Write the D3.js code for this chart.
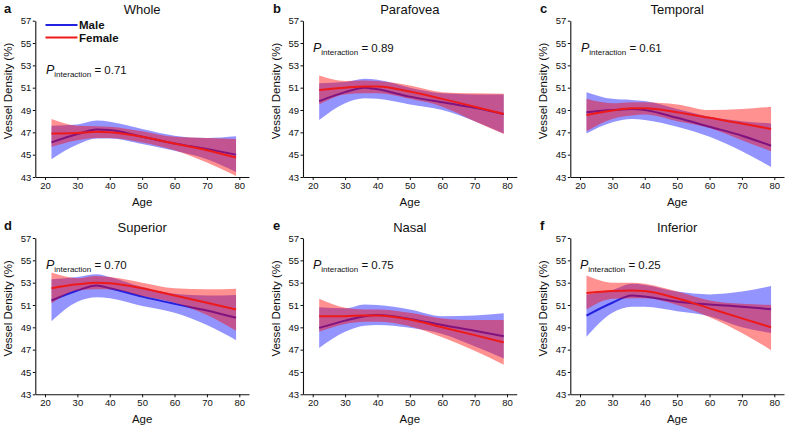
<!DOCTYPE html>
<html><head><meta charset="utf-8">
<script src="https://cdn.jsdelivr.net/npm/d3@7"></script>
<style>
body{margin:0;background:#fff;}
svg{display:block;font-family:"Liberation Sans",Arial,sans-serif;}
</style></head>
<body>
<script>
// ---- data ----
const ages = [22, 30, 36, 40, 50, 60, 70, 79];
const xTicks = [20, 30, 40, 50, 60, 70, 80];
const yTicks = [43, 45, 47, 49, 51, 53, 55, 57];
const regions = ["Whole", "Parafovea", "Temporal", "Superior", "Nasal", "Inferior"];
const panelLetters = ["a", "b", "c", "d", "e", "f"];
const pInteraction = ["0.71", "0.89", "0.61", "0.70", "0.75", "0.25"];
const seriesNames = ["Male", "Female"];

// Whole
const wholeMale     = [46.1, 46.85, 47.25, 47.2, 46.6, 46.0, 45.5, 45.0];
const wholeMaleLo   = [44.6, 45.9, 46.45, 46.45, 45.95, 45.35, 44.6, 43.45];
const wholeMaleHi   = [47.6, 47.7, 48.05, 47.95, 47.3, 46.7, 46.5, 46.65];
const wholeFemale   = [46.9, 46.95, 47.05, 47.0, 46.6, 46.0, 45.4, 44.75];
const wholeFemaleLo = [45.7, 46.3, 46.5, 46.5, 46.1, 45.4, 44.3, 43.1];
const wholeFemaleHi = [48.2, 47.6, 47.55, 47.5, 47.1, 46.6, 46.5, 46.4];
// Parafovea
const paraMale      = [49.8, 50.6, 51.0, 50.85, 50.2, 49.7, 49.2, 48.65];
const paraMaleLo    = [48.1, 49.6, 50.05, 50.0, 49.5, 49.0, 48.0, 46.9];
const paraMaleHi    = [51.4, 51.5, 51.8, 51.7, 51.0, 50.5, 50.4, 50.4];
const paraFemale    = [50.8, 51.0, 51.1, 51.1, 50.65, 50.0, 49.3, 48.65];
const paraFemaleLo  = [49.5, 50.4, 50.5, 50.5, 50.0, 49.3, 48.0, 46.85];
const paraFemaleHi  = [52.1, 51.6, 51.65, 51.6, 51.2, 50.6, 50.5, 50.45];
// Temporal
const tempMale      = [48.8, 49.0, 49.1, 49.0, 48.3, 47.5, 46.7, 45.8];
const tempMaleLo    = [46.9, 47.9, 48.2, 48.1, 47.5, 46.6, 45.3, 43.9];
const tempMaleHi    = [50.6, 50.0, 49.9, 49.8, 49.1, 48.4, 48.0, 47.8];
const tempFemale    = [48.55, 48.95, 49.15, 49.15, 48.8, 48.3, 47.8, 47.3];
const tempFemaleLo  = [47.1, 48.2, 48.5, 48.6, 48.0, 47.4, 46.3, 45.3];
const tempFemaleHi  = [50.0, 49.6, 49.7, 49.7, 49.5, 49.0, 49.1, 49.3];
// Superior
const supMale       = [51.4, 52.3, 52.75, 52.5, 51.75, 51.1, 50.5, 49.85];
const supMaleLo     = [49.55, 51.3, 51.7, 51.6, 50.9, 50.3, 49.2, 47.85];
const supMaleHi     = [53.3, 53.5, 53.75, 53.5, 52.6, 52.0, 51.85, 51.9];
const supFemale     = [52.5, 52.85, 53.0, 52.95, 52.5, 51.85, 51.2, 50.6];
const supFemaleLo   = [51.15, 52.3, 52.4, 52.4, 51.8, 51.2, 50.1, 48.7];
const supFemaleHi   = [53.9, 53.4, 53.6, 53.5, 53.0, 52.5, 52.4, 52.45];
// Nasal
const nasMale       = [48.95, 49.6, 50.0, 50.1, 49.75, 49.2, 48.7, 48.2];
const nasMaleLo     = [47.15, 48.6, 49.15, 49.2, 48.95, 48.4, 47.3, 46.2];
const nasMaleHi     = [50.8, 50.7, 51.05, 51.0, 50.6, 50.0, 50.05, 50.25];
const nasFemale     = [50.0, 50.0, 50.05, 50.05, 49.7, 49.0, 48.3, 47.65];
const nasFemaleLo   = [48.6, 49.3, 49.5, 49.5, 49.1, 48.1, 46.9, 45.65];
const nasFemaleHi   = [51.55, 50.75, 50.6, 50.6, 50.3, 49.8, 49.65, 49.65];
// Inferior
const infMale       = [50.05, 51.2, 51.85, 51.75, 51.3, 51.05, 50.85, 50.62];
const infMaleLo     = [48.15, 50.3, 50.85, 50.85, 50.45, 50.0, 49.0, 48.5];
const infMaleHi     = [51.95, 52.35, 52.9, 52.8, 52.2, 51.95, 52.2, 52.7];
const infFemale     = [52.08, 52.25, 52.3, 52.25, 51.6, 50.7, 49.8, 49.0];
const infFemaleLo   = [50.6, 51.55, 51.6, 51.6, 51.0, 49.9, 48.5, 46.95];
const infFemaleHi   = [53.63, 53.0, 53.0, 52.9, 52.2, 51.4, 51.1, 51.0];

const panelData = [
  [[wholeMale, wholeMaleLo, wholeMaleHi], [wholeFemale, wholeFemaleLo, wholeFemaleHi]],
  [[paraMale, paraMaleLo, paraMaleHi], [paraFemale, paraFemaleLo, paraFemaleHi]],
  [[tempMale, tempMaleLo, tempMaleHi], [tempFemale, tempFemaleLo, tempFemaleHi]],
  [[supMale, supMaleLo, supMaleHi], [supFemale, supFemaleLo, supFemaleHi]],
  [[nasMale, nasMaleLo, nasMaleHi], [nasFemale, nasFemaleLo, nasFemaleHi]],
  [[infMale, infMaleLo, infMaleHi], [infFemale, infFemaleLo, infFemaleHi]]
];

// ---- layout ----
const W = 787, H = 427;
const colX20 = [45, 312.7, 580];   // pixel of age 20 per column
const rowTop = [20.7, 238];        // pixel of 57 per row
const xSpan = 194.3;               // pixels for 60 years
const yH = 156.3;                  // pixels for 14 units
const lettersX = [4, 273, 540];
const bandColors = ["rgba(0,0,255,0.42)", "rgba(255,0,0,0.43)"];
const lineColors = ["#2222e0", "#ee1a1a"];
const pPos = [[46, 74], [313, 52], [581, 52], [46, 269], [313, 269], [580, 269]];

const svg = d3.select("body").append("svg").attr("width", W).attr("height", H);

regions.forEach((name, i) => {
  const col = i % 3, row = Math.floor(i / 3);
  const k = xSpan / 60;
  const x = d3.scaleLinear().domain([17, 83]).range([colX20[col] - 3 * k, colX20[col] + 63 * k]);
  const y = d3.scaleLinear().domain([43, 57]).range([rowTop[row] + yH, rowTop[row]]);
  const g = svg.append("g");

  // bands & lines: male band, male line, female band, female line
  panelData[i].forEach((s, si) => {
    const pts = ages.map((a, j) => ({a, m: s[0][j], lo: s[1][j], hi: s[2][j]}));
    const area = d3.area().x(d => x(d.a)).y0(d => y(d.lo)).y1(d => y(d.hi)).curve(d3.curveMonotoneX);
    const line = d3.line().x(d => x(d.a)).y(d => y(d.m)).curve(d3.curveMonotoneX);
    g.append("path").datum(pts).attr("d", area).attr("fill", bandColors[si]).attr("stroke", "none");
    g.append("path").datum(pts).attr("d", line).attr("fill", "none")
      .attr("stroke", lineColors[si]).attr("stroke-width", 2);
  });

  // axes
  const ya = g.append("g").attr("transform", `translate(${x(17)},0)`)
    .call(d3.axisLeft(y).tickValues(yTicks).tickFormat(d3.format("d")).tickSize(2.5).tickSizeOuter(0).tickPadding(1.5));
  const xa = g.append("g").attr("transform", `translate(0,${y(43)})`)
    .call(d3.axisBottom(x).tickValues(xTicks).tickFormat(d3.format("d")).tickSize(3).tickSizeOuter(0).tickPadding(2));
  [ya, xa].forEach(a => {
    a.selectAll("text").attr("font-size", 9.5).attr("fill", "#111").attr("font-family", '"Liberation Sans",Arial,sans-serif');
    a.select(".domain").attr("stroke", "#111").attr("stroke-width", 1.1);
    a.selectAll(".tick line").attr("stroke", "#111");
  });

  const cx = (x(17) + x(83)) / 2;
  // title
  g.append("text").attr("x", cx).attr("y", rowTop[row] - 6.5).attr("text-anchor", "middle")
    .attr("font-size", 13).attr("fill", "#111").text(name);
  // panel letter
  g.append("text").attr("x", lettersX[col]).attr("y", rowTop[row] - 8).attr("font-size", 13)
    .attr("font-weight", "bold").attr("fill", "#111").text(panelLetters[i]);
  // x label
  g.append("text").attr("x", cx).attr("y", y(43) + 28.5).attr("text-anchor", "middle")
    .attr("font-size", 11.5).attr("fill", "#111").text("Age");
  // y label
  g.append("text").attr("transform", `translate(${x(17) - 23},${y(50.7)}) rotate(-90)`)
    .attr("text-anchor", "middle").attr("font-size", 11.5).attr("fill", "#111").text("Vessel Density (%)");
  // P interaction
  const pt = g.append("text").attr("x", pPos[i][0]).attr("y", pPos[i][1]).attr("fill", "#111");
  pt.append("tspan").attr("font-style", "italic").attr("font-size", 12.5).text("P");
  pt.append("tspan").attr("font-size", 8).attr("dy", 2.5).text("interaction");
  pt.append("tspan").attr("font-size", 11.5).attr("dy", -2.5).text(" = " + pInteraction[i]);

  // legend in first panel
  if (i === 0) {
    seriesNames.forEach((s, si) => {
      const ly = 25 + si * 12.5;
      g.append("line").attr("x1", 45.5).attr("x2", 77.5).attr("y1", ly).attr("y2", ly)
        .attr("stroke", lineColors[si]).attr("stroke-width", 2);
      g.append("text").attr("x", 79).attr("y", ly + 4).attr("font-size", 11.5)
        .attr("font-weight", "bold").attr("fill", "#111").text(s);
    });
  }
});
</script>
</body></html>
